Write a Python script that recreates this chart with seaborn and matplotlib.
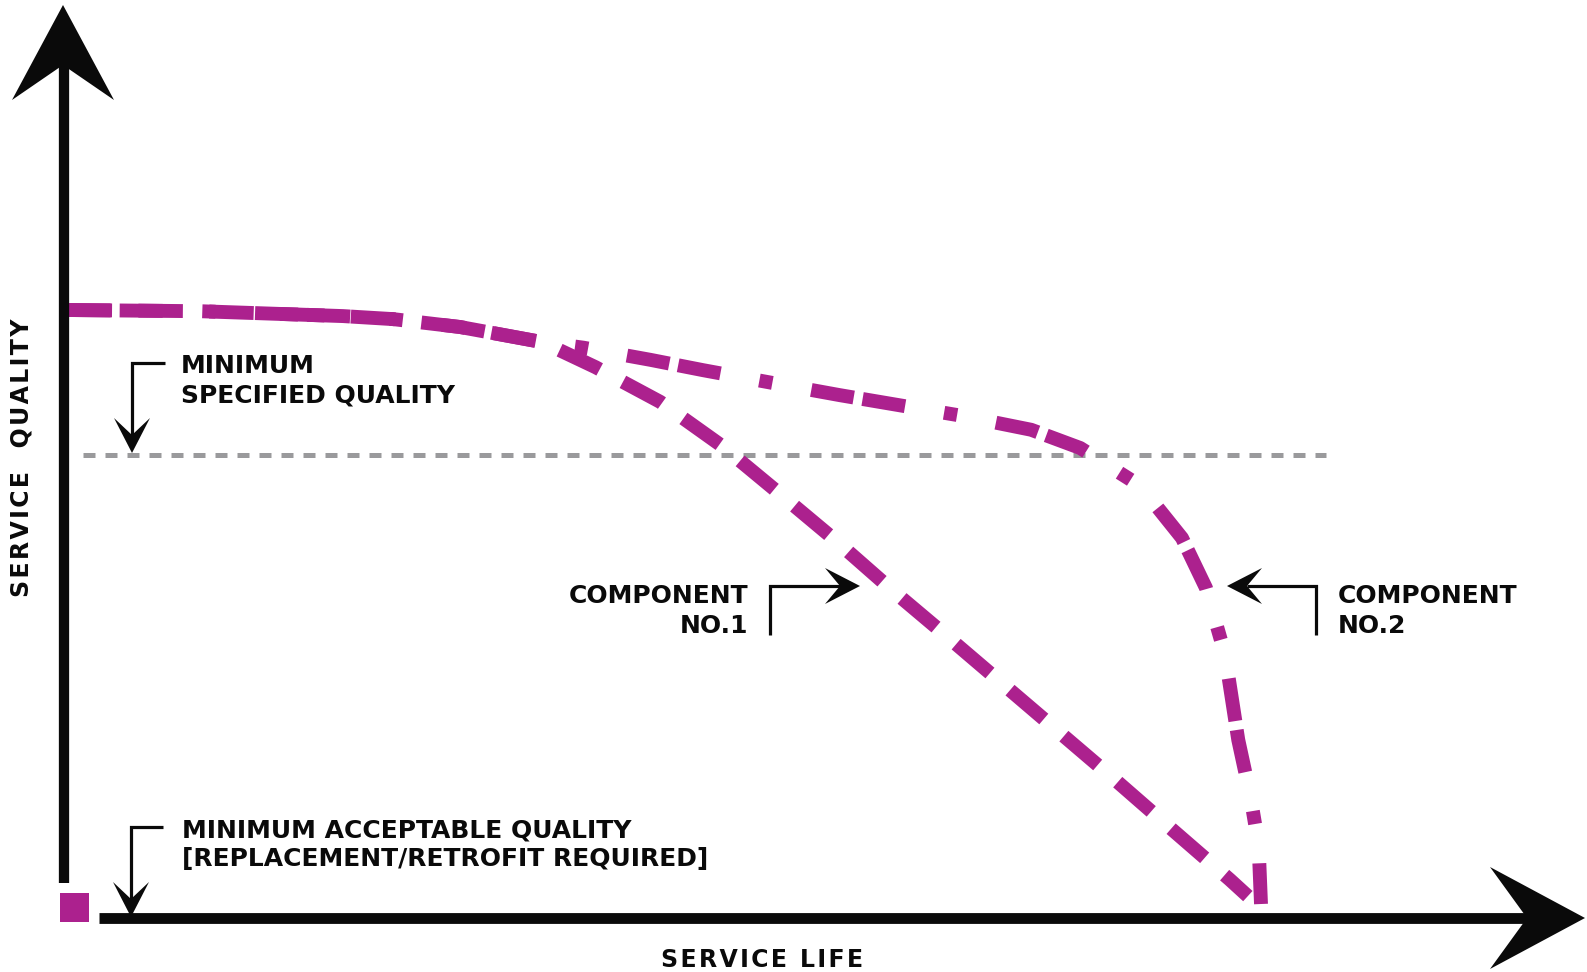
import numpy as np
import pandas as pd
import matplotlib.pyplot as plt
import seaborn as sns
from matplotlib.patches import Polygon, Rectangle
from matplotlib.lines import Line2D

# ── Data: service life (x) vs service quality (y), both in % of full scale ───
life_1 = [0.3, 11.4, 23.3, 27.5, 33.1, 40.0, 44.4, 49.8, 55.0, 59.6, 64.4,
          69.2, 73.9, 78.6, 83.3, 88.0, 92.6, 97.4, 98.9]
quality_1 = [100.0, 99.8, 99.0, 98.5, 97.2, 94.7, 90.6, 84.9, 77.6, 70.1, 62.2,
             53.9, 46.1, 38.2, 30.3, 22.4, 14.5, 6.3, 3.6]

life_2 = [0.3, 11.4, 23.3, 27.5, 33.1, 40.0, 43.4, 49.0, 53.4, 59.2, 64.8,
          69.3, 75.0, 80.8, 84.9, 89.9, 93.4, 95.4, 97.0, 98.1, 99.1, 99.8, 100.0]
quality_2 = [100.0, 99.8, 99.0, 98.5, 97.2, 94.7, 93.8, 91.8, 90.1, 88.0, 86.0,
             84.5, 82.6, 80.3, 77.3, 71.1, 62.5, 54.3, 43.3, 29.3, 20.2, 12.0, 2.3]

min_specified = 76.2   # minimum specified quality (dotted line)

comp1 = pd.DataFrame({"life": life_1, "quality": quality_1})
comp2 = pd.DataFrame({"life": life_2, "quality": quality_2})

# ── Figure / layout ──────────────────────────────────────────────────────────
W, H = 1587, 972
ORIGIN = (64, 918)          # pixel position of (0, 0)
XS, YS = 11.97, 6.08        # pixels per data unit
MAGENTA = "#AC218E"
INK = "#0a0a0a"

sns.set_theme(style="white")
plt.rcParams["font.family"] = ["DejaVu Sans"]

fig = plt.figure(figsize=(W / 100, H / 100), dpi=100)
ax = fig.add_axes([0, 0, 1, 1])
ax.set_xlim(-ORIGIN[0] / XS, (W - ORIGIN[0]) / XS)
ax.set_ylim(-(H - ORIGIN[1]) / YS, ORIGIN[1] / YS)
ax.axis("off")


def fp(x, y):
    """pixel (y down) -> figure fraction"""
    return x / W, 1 - y / H


def line_px(pts, lw, color=INK):
    xs, ys = zip(*[fp(*p) for p in pts])
    fig.add_artist(Line2D(xs, ys, transform=fig.transFigure, lw=lw, color=color,
                          solid_capstyle="butt", solid_joinstyle="miter"))


def head_px(tip, d, length, half, back):
    # d = pointing direction in pixel space (y down)
    dx, dy = d
    nx, ny = -dy, dx
    tx, ty = tip
    pts = [(tx, ty),
           (tx - length * dx + half * nx, ty - length * dy + half * ny),
           (tx - back * dx, ty - back * dy),
           (tx - length * dx - half * nx, ty - length * dy - half * ny)]
    fig.add_artist(Polygon([fp(*p) for p in pts], closed=True,
                           transform=fig.transFigure, fc=INK, ec="none"))


# threshold line
ax.hlines(min_specified, 1.6, 105.4, colors="#9a9a9c", lw=3.6,
          linestyles=[(0, (2.4, 2.0))])

# curves
sns.lineplot(data=comp2, x="life", y="quality", ax=ax, color=MAGENTA, lw=10,
             sort=False, estimator=None,
             linestyle=(0, (3.1, 0.65, 3.1, 2.85, 0.95, 2.85)))
sns.lineplot(data=comp1, x="life", y="quality", ax=ax, color=MAGENTA, lw=10,
             sort=False, estimator=None, linestyle=(0, (3.2, 1.9)))
for ln in ax.lines:
    ln.set_dash_capstyle("butt")

# main axes with arrow heads
line_px([(64, 883), (64, 60)], lw=7.4)
head_px((63, 5), (0, -1), 95, 51, 60)
line_px([(99, 918), (1530, 918)], lw=7.8)
head_px((1585, 918), (1, 0), 95, 51, 58)

# magenta marker at origin
fig.add_artist(Rectangle(fp(60, 922), 29 / W, 29 / H, transform=fig.transFigure,
                         fc=MAGENTA, ec="none"))

# callouts
line_px([(165, 363), (132, 363), (132, 435)], lw=2.3)
head_px((132, 453), (0, 1), 35, 18, 18)
line_px([(163, 827), (131, 827), (131, 900)], lw=2.3)
head_px((131, 917), (0, 1), 35, 18, 18)
line_px([(770, 635), (770, 586), (840, 586)], lw=2.3)
head_px((860, 586), (1, 0), 35, 18, 20)
line_px([(1316, 635), (1316, 586), (1247, 586)], lw=2.3)
head_px((1227, 586), (-1, 0), 35, 18, 20)

# text
txt = dict(fontsize=18, fontweight="bold", color=INK, va="baseline")
fig.text(*fp(181, 373), "MINIMUM", **txt)
fig.text(*fp(181, 403), "SPECIFIED QUALITY", **txt)
fig.text(*fp(182, 837), "MINIMUM ACCEPTABLE QUALITY", **txt)
fig.text(*fp(182, 866), "[REPLACEMENT/RETROFIT REQUIRED]", **txt)
fig.text(*fp(748, 603), "COMPONENT", ha="right", **txt)
fig.text(*fp(748, 633), "NO.1", ha="right", **txt)
fig.text(*fp(1338, 603), "COMPONENT", ha="left", **txt)
fig.text(*fp(1338, 633), "NO.2", ha="left", **txt)

spaced = lambda s: "\u200a".join(s)
fig.text(*fp(762, 967), spaced("SERVICE LIFE"), fontsize=17, fontweight="bold",
         color=INK, ha="center", va="baseline")
fig.text(*fp(22, 458), spaced("SERVICE  QUALITY"), fontsize=17, fontweight="bold",
         color=INK, ha="center", va="center", rotation=90)

fig.savefig("out.png", dpi=100)
